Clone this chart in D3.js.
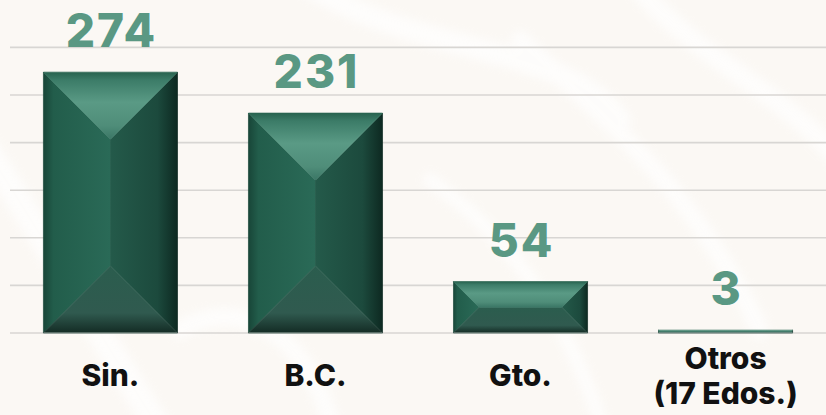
<!DOCTYPE html>
<html>
<head>
<meta charset="utf-8">
<script src="https://cdn.jsdelivr.net/npm/d3@7"></script>
<style>
  html, body { margin: 0; padding: 0; background: #fbf8f4; }
  svg { display: block; }
</style>
</head>
<body>
<div id="chart"></div>
<script>
// Casos por estado
const categories = ["Sin.", "B.C.", "Gto.", "Otros|(17 Edos.)"];
const values = [274, 231, 54, 3];
const gridTicks = [0, 50, 100, 150, 200, 250, 300];

const W = 826, H = 415;
const svg = d3.select("#chart").append("svg")
  .attr("width", W).attr("height", H);

const defs = svg.append("defs");

// Background wash with soft watermark strokes
svg.append("rect").attr("width", W).attr("height", H).attr("fill", "#fbf8f4");
defs.append("filter").attr("id", "soft")
  .append("feGaussianBlur").attr("stdDeviation", 5);
const deco = svg.append("g").attr("fill", "none").attr("stroke", "#ffffff")
  .attr("stroke-linecap", "round").attr("opacity", 0.7).attr("filter", "url(#soft)");
[
  ["M -20 140 C 40 230, 90 320, 160 430", 26],
  ["M 300 -20 C 420 60, 560 40, 620 120", 22],
  ["M 520 40 C 620 130, 700 200, 760 330", 18],
  ["M 640 -10 C 700 60, 780 90, 840 160", 20],
  ["M 180 330 C 230 300, 300 320, 330 420", 18],
  ["M 430 180 C 500 230, 560 300, 600 420", 14]
].forEach(([d, w]) => deco.append("path").attr("d", d).attr("stroke-width", w));

const y = d3.scaleLinear().domain([0, 300]).range([333, 47.4]);
const x = d3.scaleBand().domain(categories).range([10, 826])
  .paddingInner(0.346).paddingOuter(0.163);

// Gridlines
svg.append("g").selectAll("line").data(gridTicks).join("line")
  .attr("x1", 10).attr("x2", W)
  .attr("y1", d => y(d)).attr("y2", d => y(d))
  .attr("stroke", "#d8d6d3").attr("stroke-width", 1.6);

// Gradients for the bevelled faces
function grad(id, x2, y2, stops) {
  const g = defs.append("linearGradient").attr("id", id)
    .attr("x1", 0).attr("y1", 0).attr("x2", x2).attr("y2", y2);
  stops.forEach(([o, c]) => g.append("stop").attr("offset", o).attr("stop-color", c));
}
grad("gTop", 0, 1, [[0, "#28634f"], [0.12, "#3c7c68"], [0.45, "#5a9a85"], [0.8, "#4f8d79"], [1, "#3a7665"]]);
grad("gLeft", 1, 0, [[0, "#184638"], [0.15, "#225d4b"], [1, "#2a6a57"]]);
grad("gRight", 1, 0, [[0, "#245a4a"], [0.7, "#1c4a3d"], [1, "#0d2921"]]);
grad("gBottom", 0, 1, [[0, "#2b5d4e"], [0.7, "#305a4f"], [1, "#132b24"]]);

const bars = svg.append("g");
categories.forEach((c, i) => {
  const x0 = x(c), w = x.bandwidth(), x1 = x0 + w;
  const y0 = y(values[i]), y1 = y(0), h = y1 - y0;
  const d = Math.min(w, h) / 2;
  const g = bars.append("g");
  const poly = (pts, fill) => g.append("polygon")
    .attr("points", pts.map(p => p.join(",")).join(" "))
    .attr("fill", fill).attr("stroke", fill).attr("stroke-width", 0.7)
    .attr("stroke-linejoin", "round");
  poly([[x0, y0], [x0 + d, y0 + d], [x0 + d, y1 - d], [x0, y1]], "url(#gLeft)");
  poly([[x1, y0], [x1 - d, y0 + d], [x1 - d, y1 - d], [x1, y1]], "url(#gRight)");
  if (w > 2 * d && h > 2 * d) {
    poly([[x0 + d, y0 + d], [x1 - d, y0 + d], [x1 - d, y1 - d], [x0 + d, y1 - d]], "#2a6a57");
  }
  poly([[x0, y1], [x1, y1], [x1 - d, y1 - d], [x0 + d, y1 - d]], "url(#gBottom)");
  poly([[x0, y0], [x1, y0], [x1 - d, y0 + d], [x0 + d, y0 + d]], "url(#gTop)");
  g.append("line").attr("x1", x0).attr("x2", x1).attr("y1", y1).attr("y2", y1)
    .attr("stroke", "#9fb0aa").attr("stroke-width", 1.2);
});

// Value labels
svg.append("g").selectAll("text").data(values).join("text")
  .attr("x", (d, i) => x(categories[i]) + x.bandwidth() / 2 + 1)
  .attr("y", d => y(d) - 25)
  .attr("text-anchor", "middle")
  .attr("font-family", "Inter, 'Open Sans', sans-serif")
  .attr("font-weight", 800)
  .attr("font-size", 46)
  .attr("letter-spacing", 2)
  .attr("fill", "#5a9883")
  .text(d => d);

// Category labels
const cat = svg.append("g");
categories.forEach(c => {
  const lines = c.split("|");
  const cx = x(c) + x.bandwidth() / 2;
  const t = cat.append("text")
    .attr("text-anchor", "middle")
    .attr("font-family", "Inter, 'Open Sans', sans-serif")
    .attr("font-weight", 800)
    .attr("font-size", 30)
    .attr("fill", "#111111");
  lines.forEach((l, k) => {
    t.append("tspan").attr("x", cx)
      .attr("y", 386 + (k - (lines.length - 1) / 2) * 35)
      .text(l);
  });
});
</script>
</body>
</html>
